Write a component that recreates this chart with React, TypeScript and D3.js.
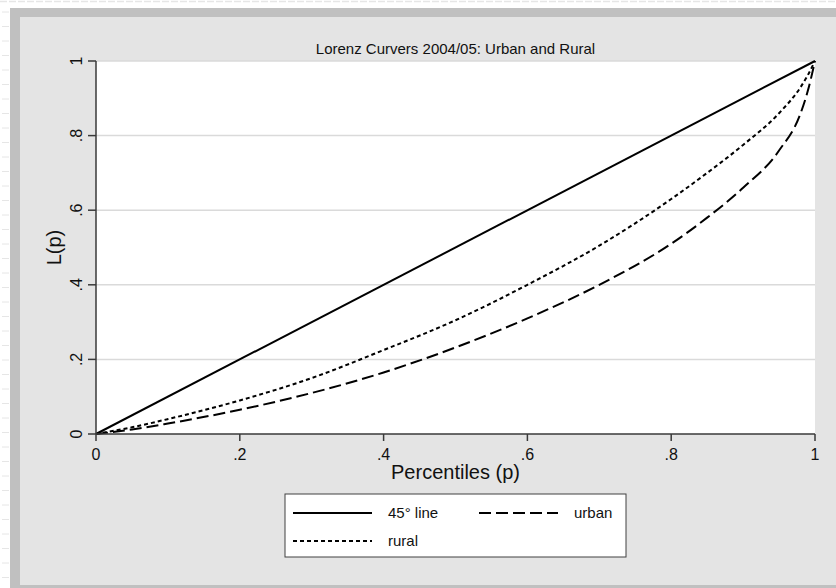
import { useEffect } from 'react';
import * as d3 from 'd3';

// Lorenz curves
const pctl = [0, 0.05, 0.1, 0.2, 0.3, 0.4, 0.5, 0.6, 0.7, 0.8, 0.85, 0.9, 0.95, 0.98, 0.99, 1];
const rural = [0, 0.018, 0.04, 0.09, 0.15, 0.225, 0.305, 0.4, 0.505, 0.63, 0.7, 0.775, 0.86, 0.93, 0.962, 1];
const urban = [0, 0.012, 0.028, 0.065, 0.11, 0.165, 0.232, 0.31, 0.4, 0.51, 0.58, 0.66, 0.76, 0.86, 0.92, 1];
const equality = [0, 1];

const ticks = [0, 0.2, 0.4, 0.6, 0.8, 1];
const tickLabels = ['0', '.2', '.4', '.6', '.8', '1'];

const title = 'Lorenz Curvers 2004/05: Urban and Rural';
const xTitle = 'Percentiles (p)';
const yTitle = 'L(p)';

const legendItems = [
  { label: '45° line', dash: 'none', col: 0, row: 0 },
  { label: 'urban', dash: '12,5', col: 1, row: 0 },
  { label: 'rural', dash: '4,3', col: 0, row: 1 },
];

const W = 836;
const H = 588;
const font = 'Arial, "Liberation Sans", Helvetica, sans-serif';

export default function App() {
  useEffect(() => {
    document.body.style.margin = '0';
  }, []);

  const plot = { left: 96, right: 815, top: 61, bottom: 434 };
  const x = d3.scaleLinear().domain([0, 1]).range([plot.left, plot.right]);
  const y = d3.scaleLinear().domain([0, 1]).range([plot.bottom, plot.top]);

  const curve = d3
    .line<number>()
    .x((_, i) => x(pctl[i]))
    .y((d) => y(d))
    .curve(d3.curveMonotoneX);
  const straight = d3
    .line<number>()
    .x((d) => x(d))
    .y((d) => y(d));

  // left page edge decorations
  const edgeMarks = d3.range(12, H, 14.5);

  const leg = { x: 285, y: 494, w: 341, h: 63 };
  const colX = [293, 479];
  const rowY = [513, 541];
  const sampleW = 79;

  return (
    <div style={{ position: 'absolute', left: 0, top: 0 }}>
      <svg width={W} height={H} style={{ display: 'block', fontFamily: font }}>
        <rect x={0} y={0} width={W} height={H} fill="#ffffff" />
        {/* page edge artifacts */}
        <line x1={0} x2={W} y1={1.5} y2={1.5} stroke="#e6e6e6" strokeWidth={1.5} strokeDasharray="7,2" />
        {edgeMarks.map((m) => (
          <line key={m} x1={2} x2={9} y1={m} y2={m} stroke="#e6e6e6" strokeWidth={1} />
        ))}
        {/* outer frame */}
        <rect x={10} y={8} width={W - 10} height={H - 8} fill="#c0c0c0" />
        <rect x={20} y={17} width={W - 20} height={585 - 17} fill="#e4e4e4" />

        {/* plot region */}
        <rect x={plot.left} y={plot.top} width={plot.right - plot.left} height={plot.bottom - plot.top} fill="#ffffff" />

        {/* grid */}
        {ticks.slice(1).map((t) => (
          <line key={t} x1={plot.left} x2={plot.right} y1={y(t)} y2={y(t)} stroke="#dadada" strokeWidth={1.5} />
        ))}

        {/* curves */}
        <path d={straight(equality) ?? ''} fill="none" stroke="#000" strokeWidth={2} />
        <path d={curve(urban) ?? ''} fill="none" stroke="#000" strokeWidth={2} strokeDasharray="12,5" />
        <path d={curve(rural) ?? ''} fill="none" stroke="#000" strokeWidth={2} strokeDasharray="4,3" />

        {/* y axis */}
        <line x1={plot.left} x2={plot.left} y1={plot.top} y2={plot.bottom} stroke="#3a3a3a" strokeWidth={1.5} />
        {ticks.map((t, i) => (
          <g key={`y${t}`}>
            <line x1={plot.left - 8} x2={plot.left} y1={y(t)} y2={y(t)} stroke="#3a3a3a" strokeWidth={1.5} />
            <text
              transform={`translate(82,${y(t)}) rotate(-90)`}
              textAnchor="middle"
              fontSize={16}
              fill="#111"
            >
              {tickLabels[i]}
            </text>
          </g>
        ))}

        {/* x axis */}
        <line x1={plot.left} x2={plot.right} y1={plot.bottom} y2={plot.bottom} stroke="#3a3a3a" strokeWidth={1.5} />
        {ticks.map((t, i) => (
          <g key={`x${t}`}>
            <line x1={x(t)} x2={x(t)} y1={plot.bottom} y2={plot.bottom + 7} stroke="#3a3a3a" strokeWidth={1.5} />
            <text x={x(t)} y={460} textAnchor="middle" fontSize={16} fill="#111">
              {tickLabels[i]}
            </text>
          </g>
        ))}

        {/* titles */}
        <text x={(plot.left + plot.right) / 2} y={54} textAnchor="middle" fontSize={15} fill="#111">
          {title}
        </text>
        <text x={(plot.left + plot.right) / 2} y={479} textAnchor="middle" fontSize={20} fill="#111">
          {xTitle}
        </text>
        <text
          transform={`translate(61,${(plot.top + plot.bottom) / 2}) rotate(-90)`}
          textAnchor="middle"
          fontSize={20}
          fill="#111"
        >
          {yTitle}
        </text>

        {/* legend */}
        <rect x={leg.x} y={leg.y} width={leg.w} height={leg.h} fill="#ffffff" stroke="#404040" strokeWidth={1} />
        {legendItems.map((d) => (
          <g key={d.label}>
            <line
              x1={colX[d.col]}
              x2={colX[d.col] + sampleW}
              y1={rowY[d.row]}
              y2={rowY[d.row]}
              stroke="#000"
              strokeWidth={2}
              strokeDasharray={d.dash}
            />
            <text x={colX[d.col] + 95} y={rowY[d.row] + 5} fontSize={15} fill="#111">
              {d.label}
            </text>
          </g>
        ))}
      </svg>
    </div>
  );
}
